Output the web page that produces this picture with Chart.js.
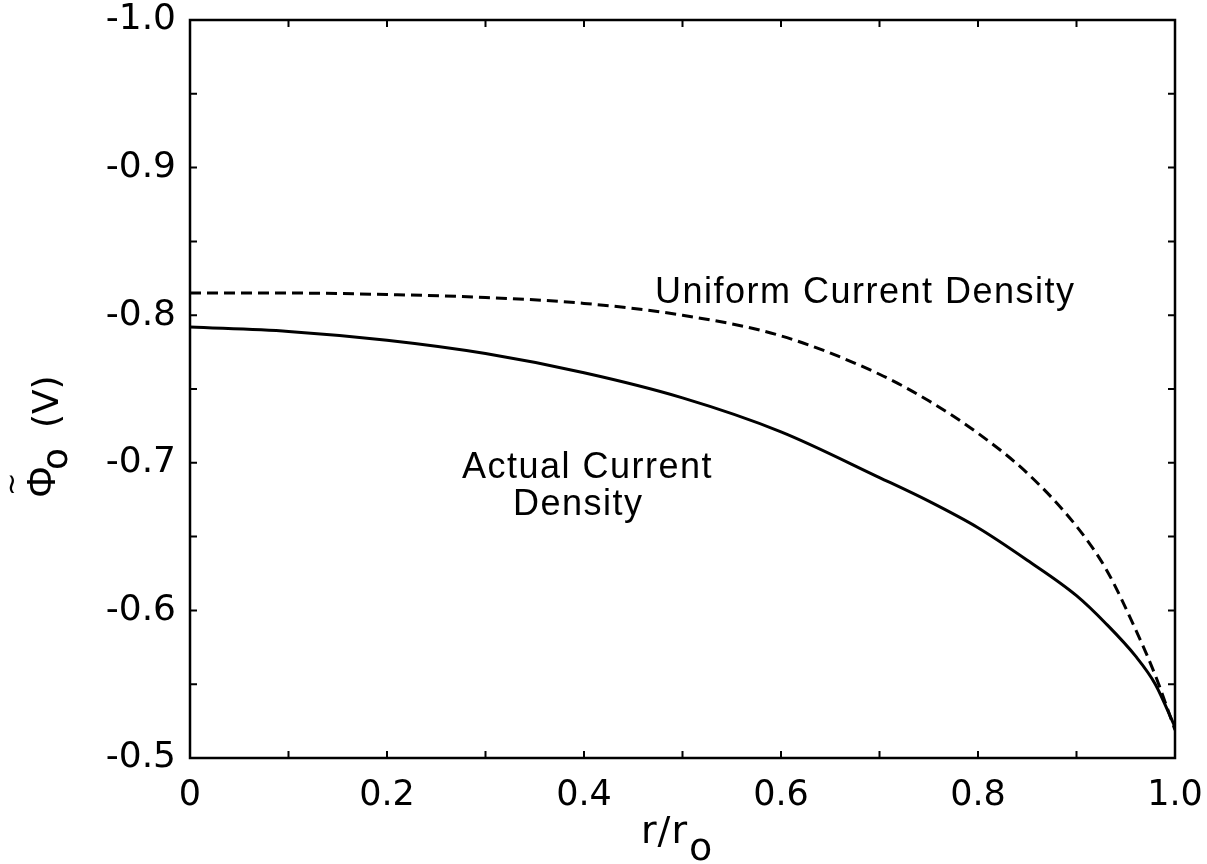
<!DOCTYPE html>
<html>
<head>
<meta charset="utf-8">
<script src="https://cdn.jsdelivr.net/npm/chart.js@4"></script>
<style>
  html, body { margin: 0; padding: 0; background: #fff; }
  #wrap { width: 1207px; height: 864px; }
</style>
</head>
<body>
<div id="wrap"><canvas id="canvas" width="1207" height="864"></canvas></div>
<script>
// r / r0 positions
var rValues = [0, 0.1, 0.2, 0.3, 0.4, 0.5, 0.6, 0.7, 0.75, 0.8, 0.85, 0.9, 0.93, 0.96, 0.98, 1.0];
// potential (V)
var actualDensity = [-0.792, -0.789, -0.783, -0.774, -0.761, -0.744, -0.721, -0.690, -0.674, -0.656, -0.634, -0.610, -0.591, -0.569, -0.550, -0.521];
var uniformDensity = [-0.815, -0.815, -0.814, -0.812, -0.808, -0.800, -0.786, -0.760, -0.742, -0.720, -0.693, -0.657, -0.628, -0.587, -0.556, -0.519];

var xTickLabels = ['0', '0.2', '0.4', '0.6', '0.8', '1.0'];
var yTickLabels = ['-1.0', '-0.9', '-0.8', '-0.7', '-0.6', '-0.5'];

function pts(ys) {
  var out = [];
  for (var i in rValues) out.push({ x: rValues[i], y: ys[i] });
  return out;
}

// box, inward ticks and the hand lettering
var frame = {
  id: 'frame',
  afterDraw: function (chart) {
    var ctx = chart.ctx;
    var a = chart.chartArea;
    var xs = chart.scales.x, ys = chart.scales.y;
    ctx.save();
    ctx.strokeStyle = '#000';
    ctx.lineWidth = 2.5;
    ctx.strokeRect(a.left, a.top, a.right - a.left, a.bottom - a.top);
    ctx.lineWidth = 2;
    var len = 7;
    ctx.beginPath();
    xs.ticks.forEach(function (t) {
      var px = xs.getPixelForValue(t.value);
      ctx.moveTo(px, a.bottom); ctx.lineTo(px, a.bottom - len);
      ctx.moveTo(px, a.top); ctx.lineTo(px, a.top + len);
    });
    ys.ticks.forEach(function (t) {
      var py = ys.getPixelForValue(t.value);
      ctx.moveTo(a.left, py); ctx.lineTo(a.left + len, py);
      ctx.moveTo(a.right, py); ctx.lineTo(a.right - len, py);
    });
    ctx.stroke();

    ctx.fillStyle = '#000';
    ctx.textAlign = 'left';
    ctx.textBaseline = 'alphabetic';
    ctx.font = '36px "Liberation Sans", Arial, sans-serif';
    ctx.letterSpacing = '1.5px';
    ctx.fillText('Uniform Current Density', 655, 303);
    ctx.fillText('Actual Current', 462, 478);
    ctx.fillText('Density', 513, 515);

    // x title r/r_o
    ctx.letterSpacing = '1px';
    ctx.font = '38px "DejaVu Sans", sans-serif';
    ctx.fillText('r/r', 641, 843);
    var w = ctx.measureText('r/r').width;
    ctx.fillText('o', 641 + w + 1, 860);

    // y title: Phi~_o (V), rotated
    ctx.translate(55, 498);
    ctx.rotate(-Math.PI / 2);
    ctx.letterSpacing = '0px';
    ctx.font = '40px "Liberation Sans", Arial, sans-serif';
    ctx.fillText('\u03A6', 0, 0);
    var pw = ctx.measureText('\u03A6').width;
    ctx.font = '28px "DejaVu Sans", sans-serif';
    ctx.fillText('~', 2, -34);
    ctx.font = '36px "DejaVu Sans", sans-serif';
    ctx.fillText('o', pw - 4, 12);
    ctx.fillText('(V)', pw + 38, 3);
    ctx.restore();
  }
};

var chart = new Chart(document.getElementById('canvas').getContext('2d'), {
  type: 'line',
  data: {
    datasets: [{
      label: 'Uniform Current Density',
      data: pts(uniformDensity),
      borderColor: '#000',
      borderWidth: 3,
      borderDash: [11, 6],
      pointRadius: 0,
      fill: false,
      cubicInterpolationMode: 'monotone'
    }, {
      label: 'Actual Current Density',
      data: pts(actualDensity),
      borderColor: '#000',
      borderWidth: 3,
      pointRadius: 0,
      fill: false,
      cubicInterpolationMode: 'monotone'
    }]
  },
  options: {
    responsive: false,
    animation: false,
    layout: { padding: { left: 0, right: 32, top: 20, bottom: 0 } },
    plugins: {
      legend: { display: false },
      tooltip: { enabled: false }
    },
    scales: {
      x: {
        type: 'linear',
        min: 0,
        max: 1,
        grid: { display: false },
        border: { display: false },
        ticks: {
          stepSize: 0.1,
          autoSkip: false,
          maxRotation: 0,
          padding: 9,
          color: '#000',
          font: { size: 35, family: '"DejaVu Sans", sans-serif' },
          callback: function (v) {
            var k = Math.round(v * 10);
            return k % 2 == 0 ? xTickLabels[k / 2] : '';
          }
        },
        afterFit: function (s) { s.height = 106; s.paddingLeft = 0; s.paddingRight = 0; }
      },
      y: {
        type: 'linear',
        min: -1.0,
        max: -0.5,
        reverse: true,
        grid: { display: false },
        border: { display: false },
        ticks: {
          stepSize: 0.05,
          autoSkip: false,
          padding: 6,
          color: '#000',
          font: { size: 36, family: '"DejaVu Sans", sans-serif' },
          callback: function (v) {
            var k = Math.round((v + 1.0) * 20);
            return k % 2 == 0 ? yTickLabels[k / 2] : '';
          }
        },
        afterFit: function (s) { s.width = 190; s.paddingTop = 0; s.paddingBottom = 0; }
      }
    }
  },
  plugins: [frame]
});
</script>
</body>
</html>
